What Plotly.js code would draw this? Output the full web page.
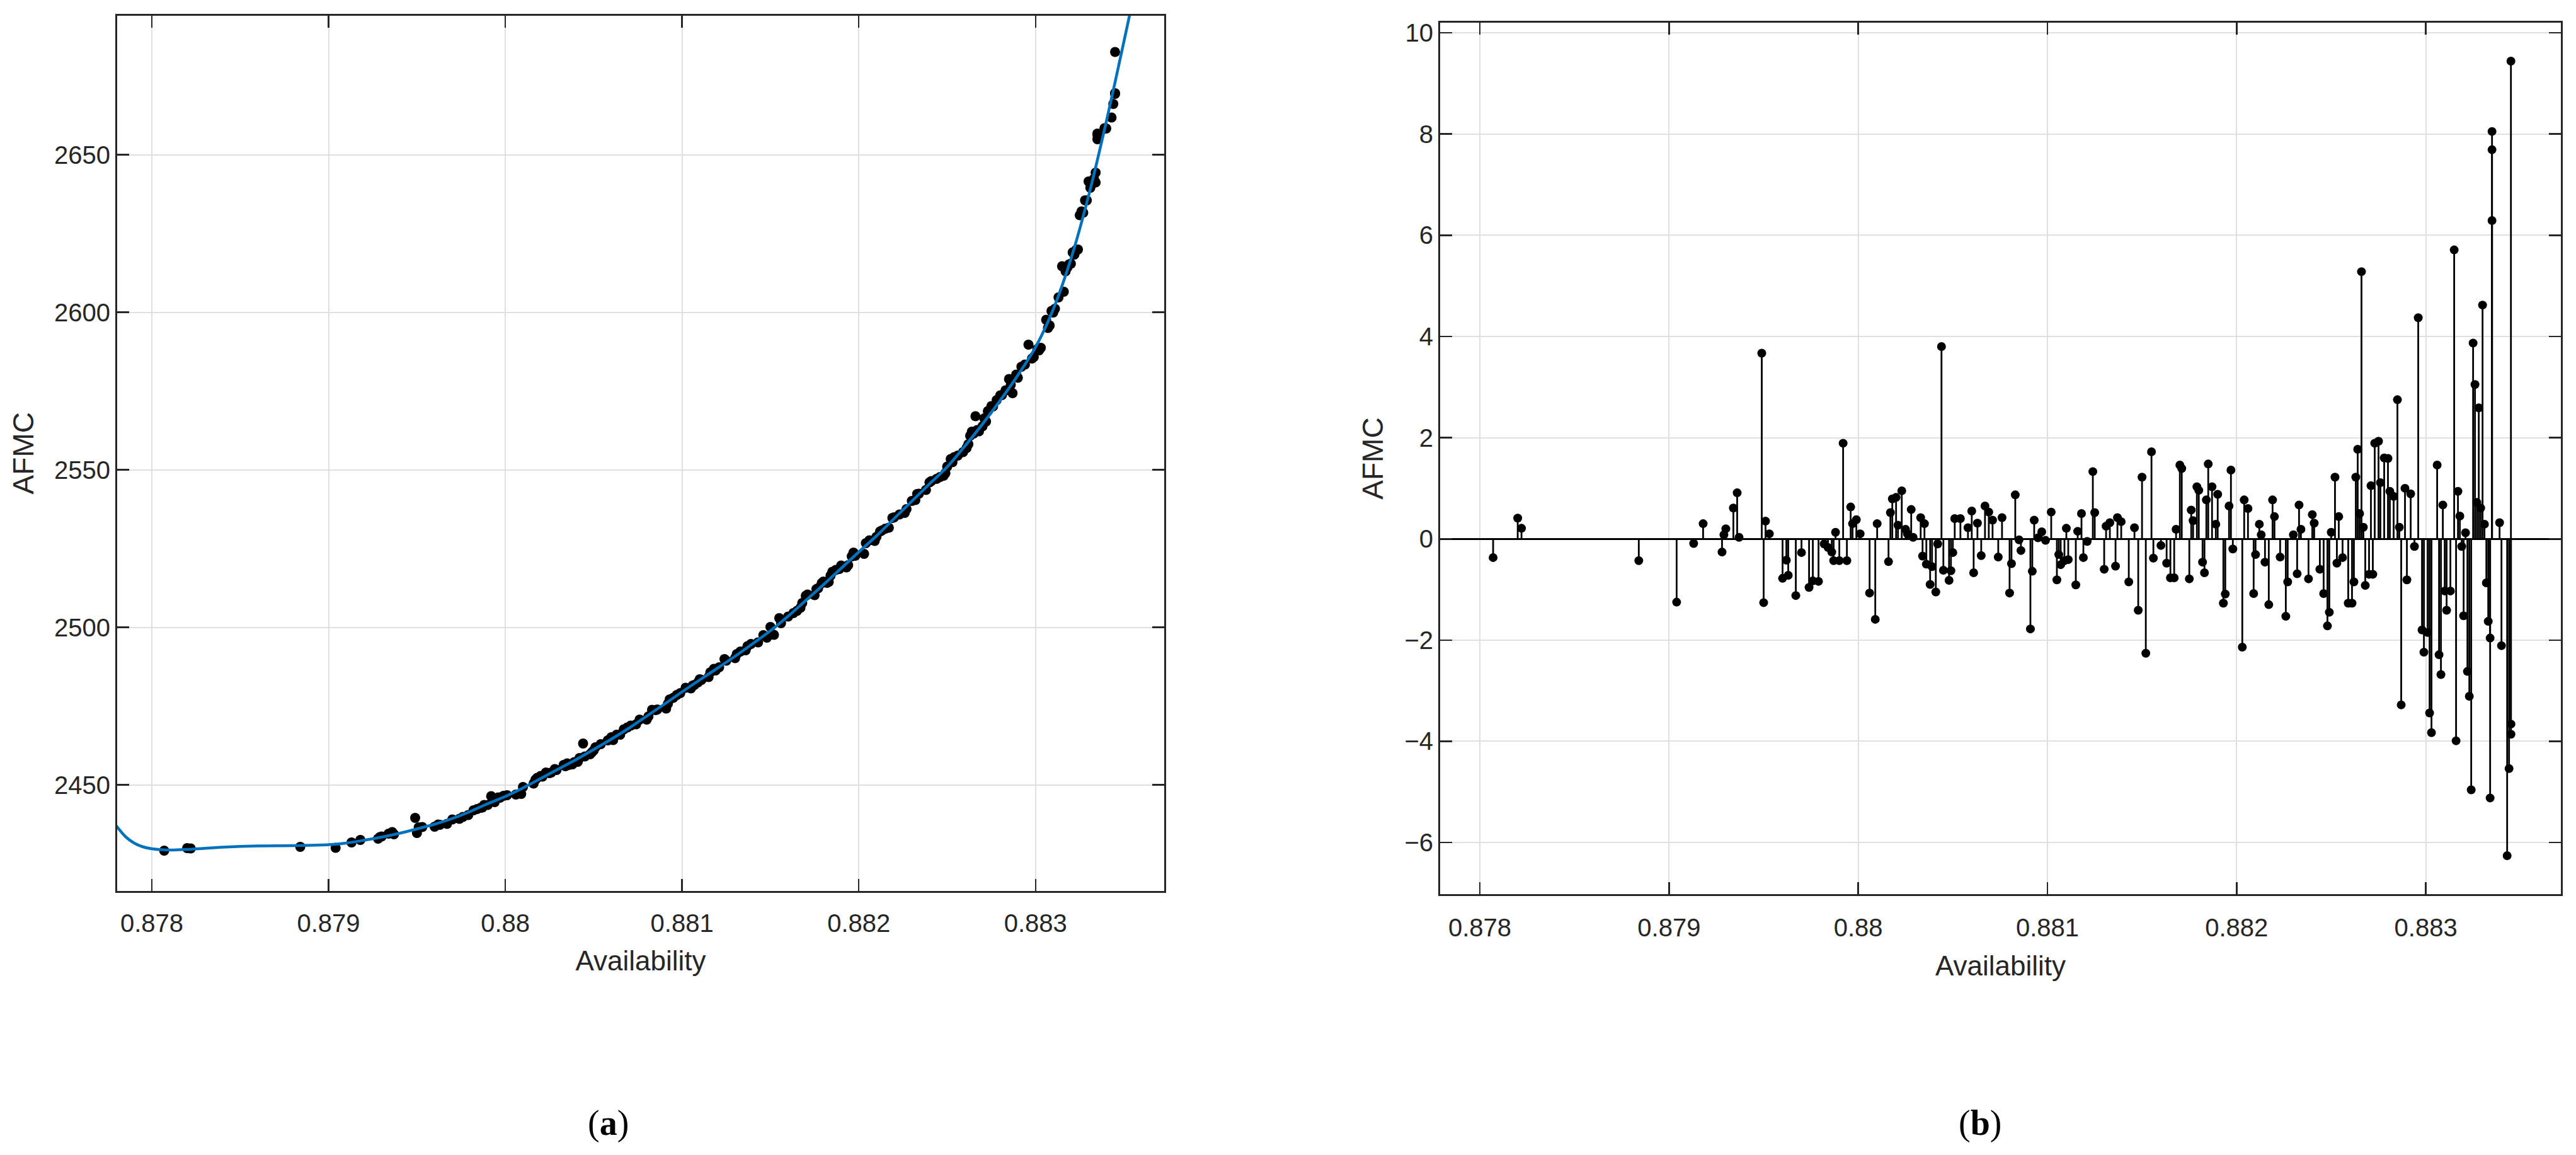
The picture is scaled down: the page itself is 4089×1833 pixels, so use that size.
<!DOCTYPE html>
<html>
<head>
<meta charset="utf-8">
<script src="https://cdn.plot.ly/plotly-3.0.1.min.js"></script>
<style>html,body{margin:0;padding:0;background:#fff;}#chart{width:4089px;height:1833px;}</style>
</head>
<body>
<div id="chart"></div>
<script>
// ---- Data ----
// Availability of each observation (shared by both panels)
const availability = [
0.87807,0.87820,0.87822,0.87884,0.87904,0.87913,0.87918,0.87928,0.87929,0.87930,
0.87934,0.87936,0.87937,0.87949,0.87950,0.87951,0.87953,0.87960,0.87962,0.87963,
0.87967,0.87970,0.87974,0.87976,0.87979,0.87982,0.87984,0.87986,0.87987,0.87988,
0.87990,0.87992,0.87994,0.87996,0.87997,0.87999,0.88001,0.88006,0.88009,0.88010,
0.88016,0.88017,0.88018,0.88020,0.88021,0.88023,0.88025,0.88026,0.88028,0.88029,
0.88033,0.88034,0.88035,0.88036,0.88038,0.88039,0.88041,0.88042,0.88044,0.88045,
0.88048,0.88049,0.88050,0.88051,0.88054,0.88058,0.88060,0.88061,0.88063,0.88065,
0.88067,0.88069,0.88071,0.88074,0.88076,0.88080,0.88081,0.88083,0.88085,0.88086,
0.88091,0.88092,0.88093,0.88095,0.88097,0.88099,0.88102,0.88105,0.88106,0.88107,
0.88109,0.88110,0.88111,0.88115,0.88116,0.88118,0.88119,0.88121,0.88124,0.88125,
0.88130,0.88131,0.88133,0.88136,0.88137,0.88139,0.88143,0.88146,0.88148,0.88150,
0.88152,0.88155,0.88156,0.88160,0.88163,0.88165,0.88167,0.88168,0.88170,0.88171,
0.88175,0.88176,0.88177,0.88179,0.88180,0.88182,0.88183,0.88184,0.88185,0.88187,
0.88189,0.88190,0.88193,0.88194,0.88196,0.88197,0.88198,0.88203,0.88204,0.88206,
0.88209,0.88210,0.88212,0.88213,0.88215,0.88217,0.88219,0.88220,0.88223,0.88226,
0.88227,0.88230,0.88232,0.88233,0.88234,0.88238,0.88240,0.88241,0.88244,0.88246,
0.88248,0.88249,0.88250,0.88252,0.88253,0.88254,0.88256,0.88259,0.88261,0.88262,
0.88263,0.88264,0.88265,0.88266,0.88267,0.88268,0.88270,0.88271,0.88272,0.88273,
0.88275,0.88276,0.88278,0.88280,0.88281,0.88283,0.88285,0.88286,0.88287,0.88289,
0.88290,0.88292,0.88294,0.88296,0.88298,0.88299,0.88301,0.88302,0.88303,0.88306,
0.88307,0.88308,0.88309,0.88310,0.88311,0.88313,0.88315,0.88316,0.88317,0.88318,
0.88319,0.88320,0.88321,0.88322,0.88323,0.88324,0.88325,0.88326,0.88327,0.88328,
0.88329,0.88330,0.88331,0.88332,0.88333,0.88334,0.88334,0.88335,0.88335,0.88335,
0.88339,0.88340,0.88343,0.88344,0.88345,0.88345,0.88345
];
// AFMC observed (panel a, black dots)
const afmc = [
2429.1,2429.9,2429.8,2430.3,2430.0,2431.7,2432.5,2432.9,2433.4,2433.6,
2434.5,2435.0,2434.3,2439.5,2434.7,2436.5,2436.6,2436.7,2437.4,2437.3,
2437.6,2439.0,2439.2,2439.8,2440.4,2441.9,2442.3,2442.7,2442.8,2443.6,
2443.6,2446.4,2444.5,2446.0,2445.9,2446.5,2446.7,2446.9,2447.1,2449.3,
2450.4,2451.6,2452.2,2452.8,2452.6,2453.9,2453.7,2453.9,2455.0,2454.7,
2456.3,2455.9,2456.8,2456.3,2456.5,2457.2,2457.3,2458.5,2463.1,2459.0,
2459.7,2460.3,2460.9,2461.9,2462.9,2464.1,2465.1,2464.2,2465.9,2465.9,
2467.6,2468.2,2468.8,2469.2,2470.7,2470.7,2471.7,2473.8,2473.7,2473.9,
2474.2,2475.7,2477.1,2477.6,2478.5,2479.1,2480.8,2480.6,2481.5,2481.7,
2482.5,2483.5,2483.3,2484.2,2485.7,2486.8,2486.3,2487.3,2489.9,2489.4,
2490.2,2491.5,2492.3,2492.7,2494.0,2494.7,2495.2,2497.5,2496.7,2500.1,
2497.6,2502.9,2501.3,2503.4,2504.5,2505.2,2506.2,2507.7,2510.0,2510.4,
2510.2,2512.1,2512.4,2514.0,2514.5,2514.1,2514.4,2516.4,2517.6,2518.2,
2518.5,2519.6,2519.0,2519.7,2522.5,2523.7,2522.7,2523.3,2526.7,2527.6,
2527.4,2528.7,2530.4,2530.7,2531.3,2531.6,2534.7,2534.9,2535.8,2536.3,
2537.5,2540.1,2540.4,2542.3,2542.4,2543.6,2546.0,2546.4,2547.1,2547.7,
2548.1,2548.9,2551.0,2553.4,2552.4,2554.0,2554.5,2555.6,2556.9,2558.1,
2560.8,2562.1,2561.5,2567.0,2562.6,2562.2,2563.8,2566.3,2565.3,2568.6,
2570.2,2570.1,2572.1,2573.6,2573.7,2575.2,2578.8,2577.0,2574.3,2580.2,
2579.2,2582.7,2583.4,2589.7,2585.3,2585.8,2588.3,2587.9,2588.7,2597.6,
2595.0,2595.8,2600.4,2599.9,2601.1,2604.7,2614.6,2606.5,2613.0,2614.2,
2615.2,2615.4,2619.0,2618.3,2619.8,2619.9,2630.8,2632.0,2631.6,2635.5,
2635.5,2641.5,2639.5,2640.7,2642.3,2644.3,2641.2,2656.7,2656.3,2654.9,
2658.4,2658.3,2661.8,2666.1,2669.5,2669.3,2682.6
];
// Residuals (panel b, stems)
const residual = [
-0.37,0.41,0.21,-0.43,-1.25,-0.09,0.30,-0.26,0.08,0.20,
0.61,0.91,0.03,3.67,-1.26,0.35,0.10,-0.78,-0.42,-0.72,
-1.12,-0.27,-0.96,-0.83,-0.84,-0.10,-0.17,-0.26,-0.43,0.13,
-0.43,1.89,-0.43,0.63,0.30,0.38,0.10,-1.07,-1.59,0.30,
-0.45,0.52,0.79,0.82,0.27,0.95,0.19,0.10,0.58,0.03,
0.42,-0.34,0.30,-0.50,-0.90,-0.55,-1.05,-0.10,3.80,-0.62,
-0.82,-0.63,-0.27,0.40,0.40,0.22,0.55,-0.67,0.31,-0.33,
0.65,0.53,0.37,-0.36,0.42,-1.07,-0.49,0.87,-0.02,-0.23,
-1.78,-0.64,0.37,0.02,0.14,-0.03,0.53,-0.81,-0.31,-0.51,
-0.43,0.21,-0.41,-0.91,0.15,0.50,-0.37,-0.05,1.33,0.52,
-0.60,0.25,0.32,-0.54,0.42,0.34,-0.85,0.22,-1.41,1.22,
-2.26,1.72,-0.38,-0.13,-0.48,-0.77,-0.77,0.19,1.46,1.39,
-0.79,0.57,0.36,1.03,0.96,-0.46,-0.67,0.77,1.48,1.03,
0.29,0.88,-1.27,-1.09,0.65,1.36,-0.20,-2.14,0.77,0.60,
-1.08,-0.31,0.29,0.08,-0.46,-1.30,0.77,0.44,-0.36,-1.53,
-0.85,0.08,-0.69,0.67,0.19,-0.79,0.48,0.31,-0.60,-1.08,
-1.72,-1.45,0.13,1.22,-0.48,0.44,-0.37,-1.27,-1.27,-0.85,
1.22,1.77,0.50,5.28,0.23,-0.92,-0.70,1.05,-0.70,1.89,
1.93,1.11,1.60,1.59,0.94,0.84,2.75,0.23,-3.28,1.00,
-0.81,0.89,-0.15,4.37,-1.80,-2.24,-1.85,-3.44,-3.83,1.46,
-2.29,-2.68,0.67,-1.03,-1.41,-1.03,5.71,-3.99,0.94,0.45,
-0.15,-1.52,0.12,-2.62,-3.11,-4.96,3.87,3.05,0.72,2.59,
0.61,4.62,0.29,-0.87,-1.63,-1.96,-5.12,8.05,7.69,6.29,
0.32,-2.11,-6.26,-4.54,-3.66,-3.86,9.44
];
// Fitted curve (panel a, blue line)
const fitX = [0.87779,0.87785,0.8779,0.87795,0.8780,0.8781,0.8782,0.8784,0.8786,0.8788,
0.8790,0.8791,0.8792,0.8793,0.8794,0.8795,0.8796,0.8797,0.8798,0.8799,
0.8800,0.8801,0.8802,0.8803,0.8804,0.8805,0.8806,0.8807,0.8808,0.8809,
0.8810,0.8811,0.8812,0.8813,0.8814,0.8815,0.8816,0.8817,0.8818,0.8819,
0.8820,0.8821,0.8822,0.8823,0.8824,0.8825,0.8826,0.8827,0.8828,0.8829,
0.8830,0.8831,0.8832,0.8833,0.8834,0.8835,0.8836];
const fitY = [2437.6,2433.6,2431.5,2430.3,2429.7,2429.3,2429.5,2430.2,2430.6,2430.7,
2431.0,2431.5,2432.4,2433.4,2434.6,2436.0,2437.5,2439.3,2441.5,2444.0,
2446.3,2449.0,2452.0,2455.0,2458.0,2461.2,2464.5,2468.0,2471.8,2475.6,
2479.5,2483.3,2487.0,2490.8,2494.8,2498.9,2503.5,2508.5,2513.5,2518.7,
2523.9,2529.0,2534.5,2540.0,2545.5,2550.9,2557.5,2564.5,2572.0,2580.0,
2588.9,2600.9,2616.9,2636.9,2660.4,2685.9,2712.0];
// Tick labels
const xTickVals = [0.878,0.879,0.880,0.881,0.882,0.883];
const xTickText = ['0.878','0.879','0.88','0.881','0.882','0.883'];
const yTickValsA = [2450,2500,2550,2600,2650];
const yTickValsB = [-6,-4,-2,0,2,4,6,8,10];

// ---- Styling ----
const TXT = '#262626';
const FONT = 'Liberation Sans, Arial, Helvetica, sans-serif';
const GRID = '#e0e0e0';

function axisBase() {
  return {
    showline: true, linecolor: TXT, linewidth: 3, mirror: 'ticks',
    ticks: 'inside', ticklen: 19, tickwidth: 2.5, tickcolor: TXT,
    showgrid: true, gridcolor: GRID, gridwidth: 2,
    zeroline: false, automargin: false,
    tickfont: {family: FONT, size: 40, color: TXT}
  };
}

const traces = [
  {type: 'scatter', mode: 'markers', x: availability, y: afmc, xaxis: 'x', yaxis: 'y',
   marker: {color: '#000000', size: 16}, name: 'AFMC data', hoverinfo: 'x+y'},
  {type: 'scatter', mode: 'lines', x: fitX, y: fitY, xaxis: 'x', yaxis: 'y',
   line: {color: '#0072BD', width: 4.5, shape: 'spline', smoothing: 0.8}, name: 'Fit'},
  {type: 'scatter', mode: 'markers', x: availability, y: residual, xaxis: 'x2', yaxis: 'y2',
   marker: {color: '#000000', size: 14}, name: 'Residuals',
   error_y: {type: 'data', symmetric: false,
     array: residual.map(v => v < 0 ? -v : 0),
     arrayminus: residual.map(v => v > 0 ? v : 0),
     width: 0, thickness: 2.8, color: '#000000'}}
];

const xa = Object.assign(axisBase(), {
  domain: [186/4089, 1848/4089], range: [0.877804, 0.883728], anchor: 'y',
  tickvals: xTickVals, ticktext: xTickText, ticklabelstandoff: 14,
  title: {text: 'Availability', font: {family: FONT, size: 44, color: TXT}, standoff: 24}
});
const ya = Object.assign(axisBase(), {
  domain: [419/1833, 1808.5/1833], range: [2416.3, 2694.2], anchor: 'x',
  tickvals: yTickValsA,
  title: {text: 'AFMC', font: {family: FONT, size: 46, color: TXT}, standoff: 18}
});
const xb = Object.assign(axisBase(), {
  domain: [2286/4089, 4065/4089], range: [0.87779, 0.883714], anchor: 'y2',
  tickvals: xTickVals, ticktext: xTickText, ticklabelstandoff: 16,
  title: {text: 'Availability', font: {family: FONT, size: 44, color: TXT}, standoff: 25}
});
const yb = Object.assign(axisBase(), {
  domain: [414/1833, 1797/1833], range: [-7.02, 10.2], anchor: 'x2',
  tickvals: yTickValsB,
  zeroline: true, zerolinecolor: '#000000', zerolinewidth: 3,
  title: {text: 'AFMC', font: {family: FONT, size: 46, color: TXT}, standoff: 20}
});

const layout = {
  width: 4089, height: 1833,
  margin: {l: 0, r: 0, t: 0, b: 0},
  paper_bgcolor: '#ffffff', plot_bgcolor: '#ffffff',
  showlegend: false,
  xaxis: xa, yaxis: ya, xaxis2: xb, yaxis2: yb,
  annotations: [
    {text: '(<b>a</b>)', xref: 'paper', yref: 'paper', x: 965/4089, y: 1 - 1782/1833,
     xanchor: 'center', yanchor: 'middle', showarrow: false,
     font: {family: 'Liberation Serif, Times New Roman, serif', size: 56, color: '#000000'}},
    {text: '(<b>b</b>)', xref: 'paper', yref: 'paper', x: 3143/4089, y: 1 - 1782/1833,
     xanchor: 'center', yanchor: 'middle', showarrow: false,
     font: {family: 'Liberation Serif, Times New Roman, serif', size: 56, color: '#000000'}}
  ]
};

Plotly.newPlot('chart', traces, layout, {staticPlot: true, displayModeBar: false});
</script>
</body>
</html>
